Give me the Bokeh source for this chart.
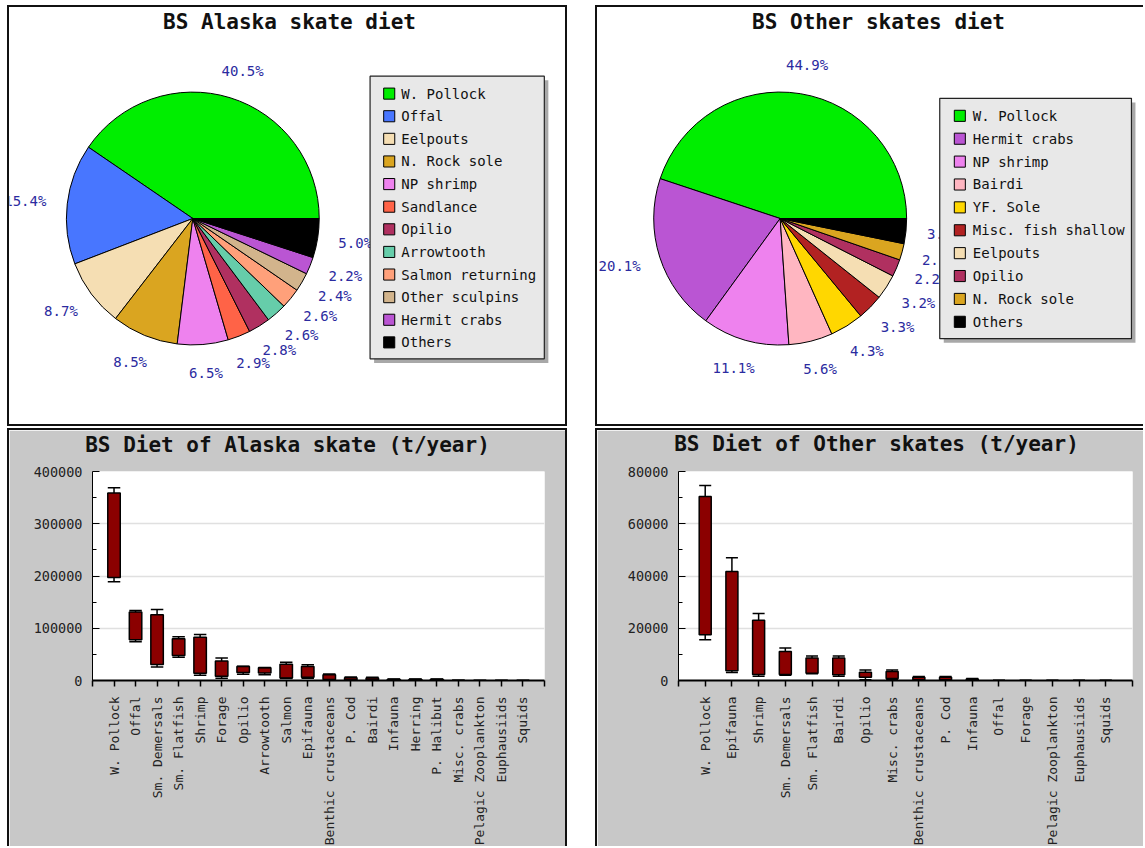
import math
import numpy as np
from bokeh.plotting import figure
from bokeh.models import (Range1d, ColumnDataSource, FixedTicker, BasicTickFormatter,
                          Label)
from bokeh.layouts import column, row
from bokeh.embed import file_html
from bokeh.resources import INLINE
from bokeh.core.properties import value

FONT = "DejaVu Sans Mono"

# ------------------------------------------------------------------ data
alaska_pie_labels = ["W. Pollock", "Offal", "Eelpouts", "N. Rock sole", "NP shrimp",
                     "Sandlance", "Opilio", "Arrowtooth", "Salmon returning",
                     "Other sculpins", "Hermit crabs", "Others"]
alaska_pie_values = [40.5, 15.4, 8.7, 8.5, 6.5, 2.9, 2.8, 2.6, 2.6, 2.4, 2.2, 5.0]
alaska_pie_colors = ["#00ee00", "#4876ff", "#f5deb3", "#daa520", "#ee82ee", "#ff6347",
                     "#b03060", "#66cdaa", "#ffa07a", "#d2b48c", "#ba55d3", "#000000"]

other_pie_labels = ["W. Pollock", "Hermit crabs", "NP shrimp", "Bairdi", "YF. Sole",
                    "Misc. fish shallow", "Eelpouts", "Opilio", "N. Rock sole", "Others"]
other_pie_values = [44.9, 20.1, 11.1, 5.6, 4.3, 3.3, 3.2, 2.2, 2.1, 3.2]
other_pie_colors = ["#00ee00", "#ba55d3", "#ee82ee", "#ffb6c1", "#ffd700", "#b22222",
                    "#f5deb3", "#b03060", "#daa520", "#000000"]

alaska_bar_categories = ["W. Pollock", "Offal", "Sm. Demersals", "Sm. Flatfish", "Shrimp",
                         "Forage", "Opilio", "Arrowtooth", "Salmon", "Epifauna",
                         "Benthic crustaceans", "P. Cod", "Bairdi", "Infauna", "Herring",
                         "P. Halibut", "Misc. crabs", "Pelagic Zooplankton", "Euphausiids",
                         "Squids"]
alaska_min = [189000, 74000, 26000, 44500, 10000, 4500, 12000, 11000, 4000, 4500,
              1000, 500, 500, 200, 200, 200, 0, 0, 0, 0]
alaska_low = [197000, 78000, 30500, 48000, 14000, 8000, 15500, 14500, 5000, 6000,
              2000, 1000, 1000, 500, 500, 500, 50, 0, 0, 0]
alaska_high = [359000, 131000, 126000, 80000, 83000, 37500, 27000, 24500, 31000, 27000,
               11000, 5500, 5000, 2500, 2500, 2500, 200, 100, 50, 50]
alaska_max = [369000, 134000, 136000, 83500, 88000, 43000, 27500, 25000, 35000, 30000,
              12500, 6500, 6000, 3000, 3000, 3000, 300, 100, 50, 50]
alaska_yticks = [0, 100000, 200000, 300000, 400000]

other_bar_categories = ["W. Pollock", "Epifauna", "Shrimp", "Sm. Demersals", "Sm. Flatfish",
                        "Bairdi", "Opilio", "Misc. crabs", "Benthic crustaceans", "P. Cod",
                        "Infauna", "Offal", "Forage", "Pelagic Zooplankton", "Euphausiids",
                        "Squids"]
other_min = [15600, 3100, 1600, 2000, 2600, 1600, 300, 400, 200, 200, 100, 0, 0, 0, 0, 0]
other_low = [17500, 3700, 2300, 2300, 2800, 2200, 1200, 800, 300, 300, 200, 0, 0, 0, 0, 0]
other_high = [70400, 41700, 23100, 11100, 8600, 8600, 3200, 3400, 1200, 1200, 600, 0, 0, 0, 0, 0]
other_max = [74600, 47000, 25600, 12400, 9400, 9400, 4000, 4000, 1500, 1500, 800, 0, 0, 0, 0, 0]
other_yticks = [0, 20000, 40000, 60000, 80000]

PIE_TITLES = ["BS Alaska skate diet", "BS Other skates diet"]
BAR_TITLES = ["BS Diet of Alaska skate (t/year)", "BS Diet of Other skates (t/year)"]

B = 2  # panel border width (css, border-box)
CHAR_W14 = 8.43   # advance of a 14px mono glyph


def border_styles(sides):
    """css borders on the given sides ('t','r','b','l'); panels cut by the window edge
    show no border on that side."""
    names = {"t": "top", "r": "right", "b": "bottom", "l": "left"}
    return {f"border-{names[s]}": f"{B}px solid #111111" for s in sides}


def inner(OW, OH, sides):
    W = OW - B * (("l" in sides) + ("r" in sides))
    H = OH - B * (("t" in sides) + ("b" in sides))
    return W, H


# ------------------------------------------------------------------ pie panels
def pie_panel(title, labels, values, colors, OW, OH, sides, cx, cy_top, r, title_x,
              box, sq_x, txt_x, ly0, ldy):
    W, H = inner(OW, OH, sides)
    p = figure(width=OW, height=OH, x_range=Range1d(0, W), y_range=Range1d(0, H),
               output_backend="svg", toolbar_location=None, min_border=0)
    p.axis.visible = False
    p.grid.visible = False
    p.outline_line_color = None
    p.background_fill_color = "white"
    p.border_fill_color = "white"
    p.styles = border_styles(sides)

    cy = H - cy_top
    vals = np.array(values, dtype=float)
    fr = vals / vals.sum()
    ends = np.cumsum(fr) * 2 * np.pi
    starts = np.concatenate([[0.0], ends[:-1]])
    src = ColumnDataSource(dict(start=starts, end=ends, color=colors))
    p.wedge(x=cx, y=cy, radius=r, start_angle="start", end_angle="end",
            fill_color="color", line_color="black", line_width=1, source=src)

    # percentage labels: text box centred on the ray, just outside the pie
    mids = (starts + ends) / 2
    txt = [f"{v:.1f}%" for v in values]
    half_w = np.array([len(t) * CHAR_W14 / 2 for t in txt])
    R = r + 21
    p.text(x=cx + R * np.cos(mids), y=cy + R * np.sin(mids), text=txt,
           x_offset=half_w * np.cos(mids), y_offset=-7 * np.sin(mids),
           text_align="center", text_baseline="middle",
           text_font=value(FONT), text_font_size="14px", text_color="#2b2ba0")

    p.text(x=[title_x], y=[H - 14], text=[title], text_align="center",
           text_baseline="middle", text_font=value(FONT), text_font_size="21px",
           text_font_style="bold", text_color="#111111")

    # legend box with shadow
    x0, x1, y0, y1 = box
    p.quad(left=x0 + 4, right=x1 + 4, top=H - y0 - 4, bottom=H - y1 - 4,
           fill_color="#a8a8a8", line_color=None)
    p.quad(left=x0, right=x1, top=H - y0, bottom=H - y1,
           fill_color="#e8e8e8", line_color="#222222", line_width=1.2)
    ys = [H - (ly0 + i * ldy) for i in range(len(labels))]
    p.rect(x=[sq_x] * len(labels), y=ys, width=11, height=11, fill_color=colors,
           line_color="black", line_width=1)
    p.text(x=[txt_x] * len(labels), y=ys, text=labels, text_align="left",
           text_baseline="middle", text_font=value(FONT), text_font_size="14px",
           text_color="#111111")
    return p


# ------------------------------------------------------------------ bar panels
def bar_panel(title, cats, vmin, vlo, vhi, vmax, yticks, OW, OH, sides, left, top,
              frame_w, frame_h, title_x, bw, lab_standoff):
    W, H = inner(OW, OH, sides)
    n = len(cats)
    xs = list(range(1, n + 1))
    p = figure(width=OW, height=OH, x_range=Range1d(0, n + 1),
               y_range=Range1d(yticks[0], yticks[-1]),
               output_backend="svg", toolbar_location=None,
               min_border_left=left, min_border_right=W - left - frame_w,
               min_border_top=top, min_border_bottom=H - top - frame_h)
    p.styles = border_styles(sides)
    p.border_fill_color = "#c8c8c8"
    p.background_fill_color = "white"
    p.outline_line_color = None

    # title as a label in the space above the frame (27 px above the frame top)
    p.add_layout(Label(x=title_x - left, y=top - 13, x_units="screen", y_units="screen",
                       text=title, text_align="center", text_baseline="middle",
                       text_font=FONT, text_font_size="21px", text_font_style="bold",
                       text_color="#111111"), "above")

    minor = [(a + b) / 2 for a, b in zip(yticks[:-1], yticks[1:])]
    p.yaxis.ticker = FixedTicker(ticks=yticks, minor_ticks=minor)
    p.yaxis.formatter = BasicTickFormatter(use_scientific=False)
    p.yaxis.axis_line_color = "black"
    p.yaxis.axis_line_width = 1
    p.yaxis.major_tick_in = 7
    p.yaxis.major_tick_out = 0
    p.yaxis.minor_tick_in = 4
    p.yaxis.minor_tick_out = 0
    p.yaxis.major_tick_line_color = "black"
    p.yaxis.minor_tick_line_color = "black"
    p.yaxis.major_label_standoff = 10
    p.yaxis.major_label_text_font = FONT
    p.yaxis.major_label_text_font_size = "13.5px"
    p.yaxis.major_label_text_color = "#222222"

    p.xaxis.ticker = FixedTicker(ticks=list(range(0, n + 2)))
    overrides = {0: " ", n + 1: " "}
    overrides.update({i + 1: c for i, c in enumerate(cats)})
    p.xaxis.major_label_overrides = overrides
    p.xaxis.major_label_orientation = math.pi / 2
    p.xaxis.major_label_standoff = lab_standoff
    p.xaxis.major_label_text_font = FONT
    p.xaxis.major_label_text_font_size = "13px"
    p.xaxis.major_label_text_color = "#222222"
    p.xaxis.axis_line_color = "black"
    p.xaxis.axis_line_width = 2
    p.xaxis.major_tick_in = 0
    p.xaxis.major_tick_out = 6
    p.xaxis.major_tick_line_width = 1.5
    p.xaxis.minor_tick_line_color = None

    p.xgrid.grid_line_color = None
    p.ygrid.ticker = FixedTicker(ticks=yticks)
    p.ygrid.grid_line_color = "#e0e0e0"
    p.ygrid.grid_line_width = 1.5

    # whiskers
    p.segment(x0=xs, y0=vhi, x1=xs, y1=vmax, line_color="black", line_width=1.5)
    p.segment(x0=xs, y0=vmin, x1=xs, y1=vlo, line_color="black", line_width=1.5)
    # boxes
    p.vbar(x=xs, bottom=vlo, top=vhi, width=bw, fill_color="#8b0000",
           line_color="black", line_width=1.5)
    # caps
    xl = [x - bw / 2 for x in xs]
    xr = [x + bw / 2 for x in xs]
    p.segment(x0=xl, y0=vmax, x1=xr, y1=vmax, line_color="black", line_width=1.5)
    p.segment(x0=xl, y0=vmin, x1=xr, y1=vmin, line_color="black", line_width=1.5)
    return p


p1 = pie_panel(PIE_TITLES[0], alaska_pie_labels, alaska_pie_values, alaska_pie_colors,
               560, 421, "trbl", 182, 209, 125.5, 278, (358, 531, 68, 348),
               377, 389, 85.3, 22.4)
p2 = pie_panel(PIE_TITLES[1], other_pie_labels, other_pie_values, other_pie_colors,
               548, 421, "tbl", 182, 209, 126, 280, (341, 532, 90, 328),
               361, 374, 107.3, 22.67)

p3 = bar_panel(BAR_TITLES[0], alaska_bar_categories, alaska_min, alaska_low, alaska_high,
               alaska_max, alaska_yticks, 560, 418, "trl", 83, 40, 448, 210, 278, 0.58, 10)
p4 = bar_panel(BAR_TITLES[1], other_bar_categories, other_min, other_low, other_high,
               other_max, other_yticks, 548, 418, "tl", 81, 41, 452, 212, 279, 0.45, 10)

top_row = row(p1, p2, spacing=28)
bottom_row = row(p3, p4, spacing=28)
layout = column(top_row, bottom_row, spacing=2, margin=(5, 0, 0, 7))

open("out.html", "w").write(file_html(layout, INLINE))
